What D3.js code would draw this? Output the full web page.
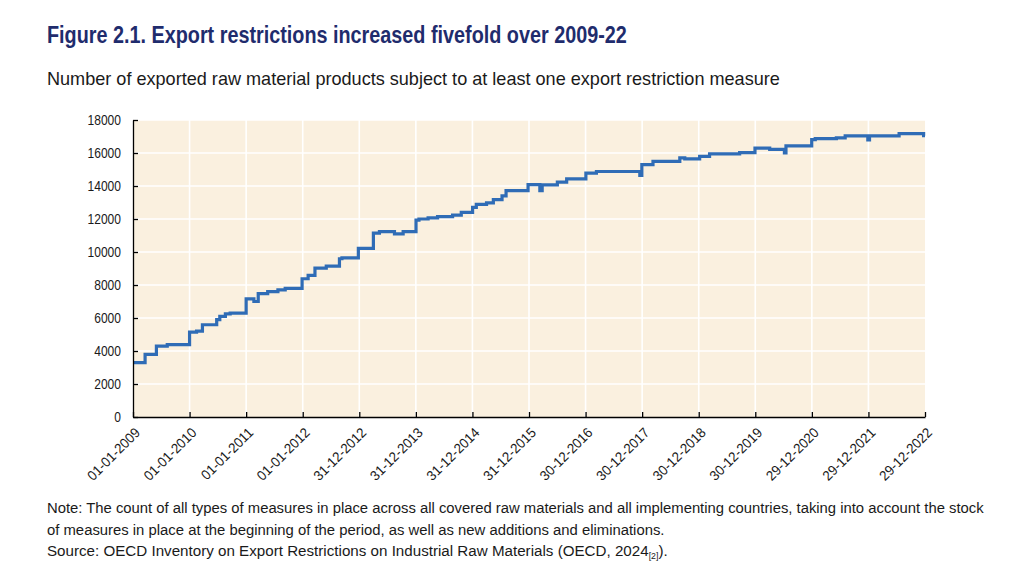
<!DOCTYPE html>
<html>
<head>
<meta charset="utf-8">
<script src="https://cdn.jsdelivr.net/npm/d3@7"></script>
<style>
  body { margin: 0; background: #fff; }
  text { font-family: "Liberation Sans Narrow", "Arial Narrow", "Liberation Sans", Arial, sans-serif; }
</style>
</head>
<body>
<svg width="1024" height="576"></svg>
<script>
let tickLabels = ['01-01-2009', '01-01-2010', '01-01-2011', '01-01-2012', '31-12-2012', '31-12-2013',
    '31-12-2014', '31-12-2015', '30-12-2016', '30-12-2017', '30-12-2018', '30-12-2019',
    '29-12-2020', '29-12-2021', '29-12-2022']
let yTicks = [0, 2000, 4000, 6000, 8000, 10000, 12000, 14000, 16000, 18000]

// step changes
let stepDates = ['2009-01-01', '2009-03-20', '2009-06-01', '2009-08-10', '2010-01-01', '2010-02-15',
    '2010-03-25', '2010-06-25', '2010-07-15', '2010-08-20', '2010-09-20', '2011-01-01',
    '2011-02-20', '2011-03-20', '2011-05-20', '2011-07-25', '2011-09-10', '2011-12-28',
    '2012-02-05', '2012-03-20', '2012-06-01', '2012-08-25', '2012-09-10', '2012-12-25',
    '2013-04-01', '2013-05-10', '2013-08-15', '2013-10-10', '2014-01-01', '2014-01-20',
    '2014-03-20', '2014-05-20', '2014-08-25', '2014-10-20', '2015-01-01', '2015-01-25',
    '2015-04-01', '2015-05-15', '2015-07-10', '2015-08-05', '2015-12-25', '2016-03-10',
    '2016-03-25', '2016-07-01', '2016-08-30', '2017-01-01', '2017-03-10', '2017-12-15',
    '2017-12-28', '2018-03-10', '2018-08-30', '2018-10-01', '2019-01-05', '2019-03-10',
    '2019-09-20', '2019-12-28', '2020-04-01', '2020-07-05', '2020-07-15', '2020-12-28',
    '2021-01-20', '2021-06-05', '2021-08-01', '2021-12-25', '2022-01-05', '2022-07-15',
    '2022-12-20', '2022-12-29']
let stepValues = [3300, 3800, 4300, 4390, 5140, 5200,
    5590, 5900, 6100, 6250, 6300, 7160,
    7000, 7480, 7600, 7700, 7800, 8380,
    8580, 9020, 9140, 9590, 9650, 10220,
    11140, 11240, 11100, 11240, 11930, 12000,
    12070, 12140, 12240, 12400, 12700, 12890,
    12980, 13170, 13400, 13720, 14085, 13720,
    14070, 14230, 14430, 14780, 14880, 14650,
    15290, 15490, 15700, 15640, 15800, 15950,
    16020, 16300, 16220, 16000, 16430, 16810,
    16870, 16920, 17040, 16800, 17040, 17180,
    17050, 17050]

let title = 'Figure 2.1. Export restrictions increased fivefold over 2009-22'
let subtitle = 'Number of exported raw material products subject to at least one export restriction measure'
let note1 = 'Note: The count of all types of measures in place across all covered raw materials and all implementing countries, taking into account the stock'
let note2 = 'of measures in place at the beginning of the period, as well as new additions and eliminations.'
let source = 'Source: OECD Inventory on Export Restrictions on Industrial Raw Materials (OECD, 2024'

let parseDay = d3.timeParse('%Y-%m-%d')
let parseTick = d3.timeParse('%d-%m-%Y')
let data = stepDates.map((d, i) => ({ date: parseDay(d), value: stepValues[i] }))
let tickDates = tickLabels.map(parseTick)

let svg = d3.select('svg')
let plot = { left: 133, right: 925, top: 120, bottom: 417 }

let scale = {
    x: d3.scaleTime().domain([tickDates[0], tickDates[tickDates.length - 1]]).range([plot.left, plot.right]),
    y: d3.scaleLinear().domain([0, 18000]).range([plot.bottom, plot.top])
}

// fit a text element to a measured width by squeezing it horizontally
function fitWidth(sel, x, target) {
    let w = sel.node().getBBox().width
    if (w > 0) sel.attr('transform', `translate(${x},0) scale(${target / w},1) translate(${-x},0)`)
}

// titles
let t = svg.append('text').attr('x', 47).attr('y', 43)
    .attr('font-size', 23).attr('font-weight', 'bold').attr('fill', '#1f2c6d').text(title)
fitWidth(t, 47, 580)
let st = svg.append('text').attr('x', 47).attr('y', 85)
    .attr('font-size', 19).attr('fill', '#1a1a1a').text(subtitle)
fitWidth(st, 47, 733)

// plot background
svg.append('rect')
    .attr('x', plot.left).attr('y', plot.top)
    .attr('width', plot.right - plot.left).attr('height', plot.bottom - plot.top)
    .attr('fill', '#faf0df')

// grid
let grid = svg.append('g').attr('stroke', '#ffffff').attr('stroke-width', 1.6)
grid.selectAll('.hy').data(yTicks.slice(1)).join('line')
    .attr('x1', plot.left).attr('x2', plot.right)
    .attr('y1', d => scale.y(d)).attr('y2', d => scale.y(d))
grid.selectAll('.vx').data(tickDates.slice(1, -1)).join('line')
    .attr('y1', plot.top).attr('y2', plot.bottom)
    .attr('x1', d => scale.x(d)).attr('x2', d => scale.x(d))

// line
let line = d3.line()
    .x(d => scale.x(d.date))
    .y(d => scale.y(d.value))
    .curve(d3.curveStepAfter)

svg.append('path')
    .datum(data)
    .attr('d', line)
    .attr('fill', 'none')
    .attr('stroke', '#2f6cb6')
    .attr('stroke-width', 3.2)
    .attr('stroke-linejoin', 'miter')

// axes
let axis = {
    x: d3.axisBottom(scale.x).tickValues(tickDates).tickSize(-5).tickSizeOuter(0)
        .tickFormat(d3.timeFormat('%d-%m-%Y')),
    y: d3.axisLeft(scale.y).tickValues(yTicks).tickSize(-5).tickSizeOuter(0)
        .tickFormat(d3.format('d'))
}

let gx = svg.append('g')
    .attr('transform', `translate(0,${plot.bottom})`)
    .call(axis.x)
gx.selectAll('text')
    .attr('font-size', 14)
    .attr('fill', '#1a1a1a')
    .attr('text-anchor', 'end')
    .attr('x', 0).attr('y', 0).attr('dy', '0.35em')
    .attr('transform', 'translate(4,13) rotate(-45) scale(0.95,1)')

let gy = svg.append('g')
    .attr('transform', `translate(${plot.left},0)`)
    .call(axis.y)
gy.selectAll('text')
    .attr('font-size', 14)
    .attr('fill', '#1a1a1a')
    .attr('x', 0)
    .attr('transform', 'translate(-12,0) scale(0.86,1)')

svg.selectAll('.domain').attr('stroke', '#000').attr('stroke-width', 1.3)
svg.selectAll('.tick line').attr('stroke', '#000').attr('stroke-width', 1.3)

// notes
let n1 = svg.append('text').attr('x', 47).attr('y', 513).attr('font-size', 15.5).attr('fill', '#1a1a1a').text(note1)
fitWidth(n1, 47, 938)
let n2 = svg.append('text').attr('x', 47).attr('y', 535).attr('font-size', 15.5).attr('fill', '#1a1a1a').text(note2)
fitWidth(n2, 47, 618)
let n3 = svg.append('text').attr('x', 47).attr('y', 556).attr('font-size', 15.5).attr('fill', '#1a1a1a')
n3.append('tspan').text(source)
n3.append('tspan').attr('font-size', 9).attr('dy', 3).text('[2]')
n3.append('tspan').attr('dy', -3).text(').')
fitWidth(n3, 47, 621)
</script>
</body>
</html>
